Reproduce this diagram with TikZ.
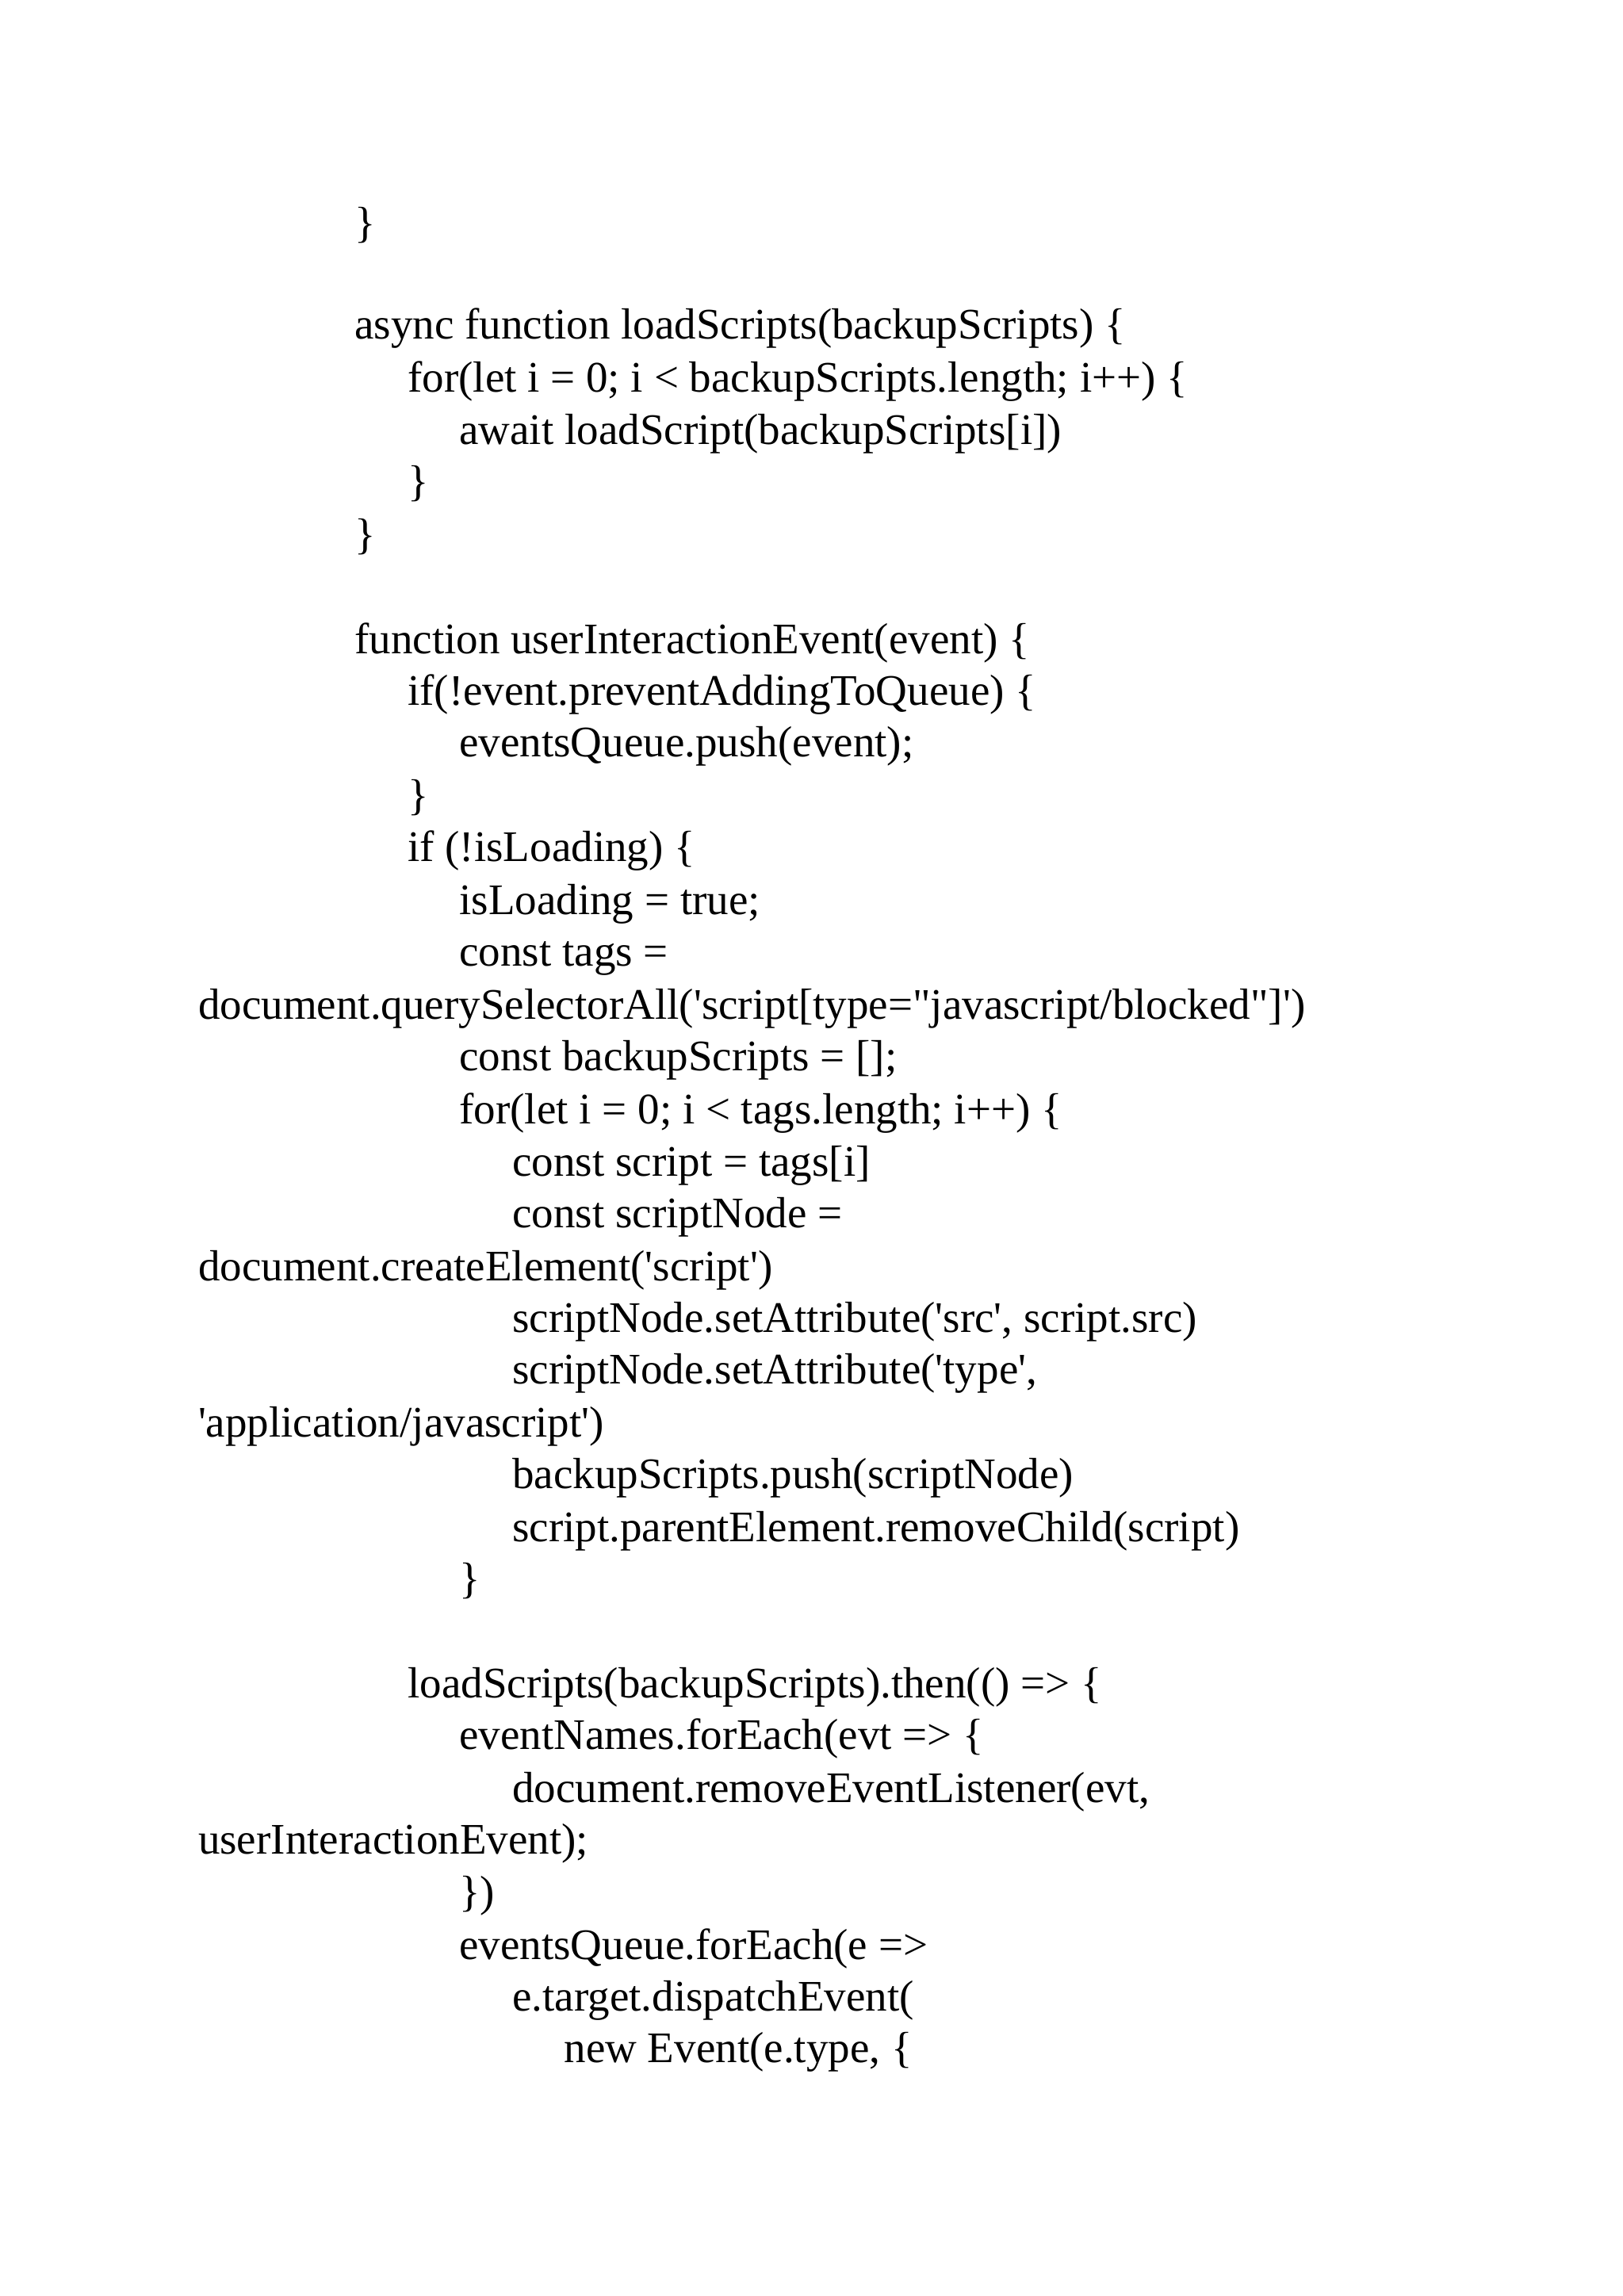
\documentclass[tikz,border=0pt]{standalone}
\usepackage{fontspec}
\newfontfamily\cf{Liberation Serif}
\newcommand{\Ln}[4]{\node[ln] (#1) at ({#2*0.541pt},{-(#3+8)*0.541pt}) {#4};}
\begin{document}
\begin{tikzpicture}[ln/.style={anchor=base west,inner sep=0pt,font=\cf\fontsize{16}{19}\selectfont}]
\useasboundingbox (0,0) rectangle (595pt,-842pt);
\Ln{a1}{240}{153}{\}}
\Ln{a2}{240}{222}{async function loadScripts(backupScripts) \{}
\Ln{a3}{276}{258}{for(let i = 0; i < backupScripts.length; i++) \{}
\Ln{a4}{311}{293}{await loadScript(backupScripts[i])}
\Ln{a5}{276}{328}{\}}
\Ln{a6}{240}{364}{\}}
\Ln{b1}{240}{435}{function userInteractionEvent(event) \{}
\Ln{b2}{276}{470}{if(!event.preventAddingToQueue) \{}
\Ln{b3}{311}{505}{eventsQueue.push(event);}
\Ln{b4}{276}{541}{\}}
\Ln{b5}{276}{576}{if (!isLoading) \{}
\Ln{b6}{311}{612}{isLoading = true;}
\Ln{b7}{311}{647}{const tags =}
\Ln{b8}{134}{683}{document.querySelectorAll('script[type="javascript/blocked"]')}
\Ln{b9}{311}{718}{const backupScripts = [];}
\Ln{c1}{311}{754}{for(let i = 0; i < tags.length; i++) \{}
\Ln{c2}{347}{789}{const script = tags[i]}
\Ln{c3}{347}{824}{const scriptNode =}
\Ln{c4}{134}{860}{document.createElement('script')}
\Ln{c5}{347}{895}{scriptNode.setAttribute('src', script.src)}
\Ln{c6}{347}{930}{scriptNode.setAttribute('type',}
\Ln{c7}{134}{966}{'application/javascript')}
\Ln{c8}{347}{1001}{backupScripts.push(scriptNode)}
\Ln{c9}{347}{1037}{script.parentElement.removeChild(script)}
\Ln{d1}{311}{1072}{\}}
\Ln{d2}{276}{1143}{loadScripts(backupScripts).then(() => \{}
\Ln{d3}{311}{1178}{eventNames.forEach(evt => \{}
\Ln{d4}{347}{1214}{document.removeEventListener(evt,}
\Ln{d5}{134}{1249}{userInteractionEvent);}
\Ln{d6}{311}{1284}{\})}
\Ln{d7}{311}{1320}{eventsQueue.forEach(e =>}
\Ln{d8}{347}{1355}{e.target.dispatchEvent(}
\Ln{d9}{382}{1390}{new Event(e.type, \{}
\end{tikzpicture}
\end{document}
